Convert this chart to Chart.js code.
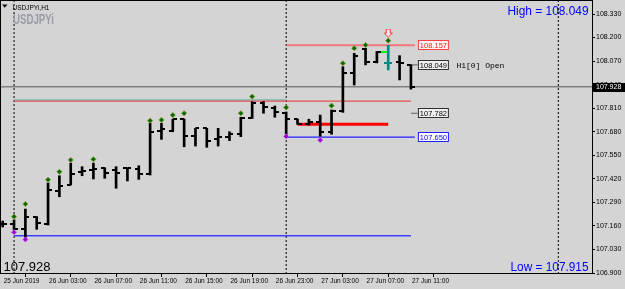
<!DOCTYPE html>
<html>
<head>
<meta charset="utf-8">
<script src="https://cdn.jsdelivr.net/npm/chart.js@4.4.1/dist/chart.umd.min.js"></script>
<style>
  html, body { margin: 0; padding: 0; background: #d4d4d4; }
  #wrap { width: 625px; height: 289px; }
</style>
</head>
<body>
<div id="wrap"><canvas id="chart" width="625" height="289"></canvas></div>
<script>
// USDJPYi H1 bars, index 0 = 25 Jun 23:00 ... index 36 = 27 Jun 11:00
const opens  = [107.171, 107.171, 107.143, 107.211, 107.169, 107.354, 107.386, 107.459, 107.469, 107.478,
                107.469, 107.478, 107.474, 107.445, 107.686, 107.686, 107.749, 107.658, 107.699, 107.640,
                107.653, 107.666, 107.758, 107.840, 107.809, 107.786, 107.749, 107.723, 107.735, 107.677,
                107.795, 108.006, 108.137, 108.063, 108.062, 108.063, 108.049];
const highs  = [107.187, 107.193, 107.253, 107.211, 107.397, 107.437, 107.507, 107.487, 107.507, 107.481,
                107.487, 107.478, 107.492, 107.728, 107.727, 107.749, 107.750, 107.699, 107.699, 107.699,
                107.680, 107.760, 107.846, 107.846, 107.822, 107.789, 107.750, 107.749, 107.772, 107.800,
                108.039, 108.113, 108.141, 108.123, 108.157, 108.100, 108.049];
const lows   = [107.154, 107.137, 107.092, 107.141, 107.165, 107.321, 107.386, 107.437, 107.419, 107.423,
                107.368, 107.408, 107.417, 107.441, 107.638, 107.680, 107.597, 107.601, 107.594, 107.601,
                107.631, 107.653, 107.754, 107.782, 107.760, 107.650, 107.721, 107.717, 107.655, 107.666,
                107.787, 107.938, 108.049, 108.060, 108.021, 107.966, 107.915];
const closes = [107.171, 107.143, 107.211, 107.176, 107.358, 107.382, 107.445, 107.463, 107.474, 107.451,
                107.454, 107.478, 107.445, 107.677, 107.694, 107.749, 107.658, 107.699, 107.631, 107.649,
                107.668, 107.758, 107.837, 107.815, 107.791, 107.750, 107.723, 107.735, 107.680, 107.796,
                108.006, 108.100, 108.063, 108.120, 108.062, 108.058, 107.928];

// fractal markers
const upFractalBars = [1, 2, 4, 5, 6, 8, 13, 14, 15, 16, 21, 22, 25, 29, 30, 31, 32, 34];
const upFractalVals = [107.211, 107.281, 107.415, 107.459, 107.524, 107.528, 107.741, 107.745, 107.772,
                       107.782, 107.782, 107.874, 107.814, 107.824, 108.058, 108.141, 108.159, 108.183];
const downFractalBars = [1, 2, 25, 28];
const downFractalVals = [107.125, 107.085, 107.654, 107.634];
const signalBar = 34;
const signalArrowVal = 108.225;

// levels
const currentPrice = 107.928;
const channelHigh = 107.849;
const channelBand = 107.857;
const channelLow = 107.105;
const resistance = 108.157;
const support = 107.650;
const midLevel = 107.721;
const greenLevel = 108.120;
const barOpen = 108.049;
const lastLow = 107.782;
const dayHigh = 108.049;
const dayLow = 107.915;
const daySeparators = [1, 25, 49];

const xTickValues = [0, 4, 8, 12, 16, 20, 24, 28, 32, 36];
const xTickLabels = ['25 Jun 2019', '26 Jun 03:00', '26 Jun 07:00', '26 Jun 11:00', '26 Jun 15:00',
                     '26 Jun 19:00', '26 Jun 23:00', '27 Jun 03:00', '27 Jun 07:00', '27 Jun 11:00'];
const yTickValues = [106.900, 107.030, 107.160, 107.290, 107.420, 107.550, 107.680, 107.810, 107.940,
                     108.070, 108.200, 108.330];

const xMin = -0.15, xMax = 51.97;
const yMin = 106.8945, yMax = 108.4018;
const lastBar = opens.length - 1;

function tickImage(color, side) {
  const c = document.createElement('canvas');
  c.width = 8; c.height = 2;
  const g = c.getContext('2d');
  g.fillStyle = color;
  g.fillRect(side === 'left' ? 0 : 4, 0, 4, 2);
  return c;
}
function arrowImage() {
  const c = document.createElement('canvas');
  c.width = 9; c.height = 9;
  const g = c.getContext('2d');
  g.beginPath();
  g.moveTo(2.5, 0.5); g.lineTo(6.5, 0.5); g.lineTo(6.5, 4.5); g.lineTo(8.5, 4.5);
  g.lineTo(4.5, 8.5); g.lineTo(0.5, 4.5); g.lineTo(2.5, 4.5); g.closePath();
  g.fillStyle = '#fff0f0'; g.fill();
  g.strokeStyle = '#ff3030'; g.lineWidth = 1; g.stroke();
  return c;
}
const openBlack = tickImage('#000', 'left'), openTeal = tickImage('#008b8b', 'left');
const closeBlack = tickImage('#000', 'right'), closeTeal = tickImage('#008b8b', 'right');

function hLine(val, from, to, color, width, order) {
  return {
    type: 'line', data: [{x: from, y: val}, {x: to, y: val}],
    borderColor: color, borderWidth: width, pointRadius: 0, order: order
  };
}

const datasets = [
  hLine(currentPrice, xMin, xMax, '#808080', 1.5, 20),
  hLine(channelBand, 1, 25, '#8cbcbc', 1.5, 21),
  hLine(channelHigh, 1, lastBar, '#e83030', 1, 20),
  hLine(channelLow, 1, lastBar, '#3c3cff', 1.5, 20),
  hLine(resistance, 25.05, 36.35, '#f07878', 2, 20),
  hLine(support, 24.9, 36.35, '#2020ff', 1.2, 20),
  hLine(midLevel, 26, 34, '#ff0000', 3, 20),
  hLine(greenLevel, 33, 34, '#00ff00', 2, 20),
  hLine(barOpen, lastBar, 36.6, '#606060', 1, 20),
  hLine(lastLow, lastBar, 36.6, '#606060', 1, 20),
  ...daySeparators.map(s => ({
    type: 'line', data: [{x: s, y: yMin}, {x: s, y: yMax}],
    borderColor: '#000', borderWidth: 1, borderDash: [2, 2], pointRadius: 0, order: 25
  })),
  {
    type: 'bar',
    data: highs.map((h, i) => ({x: i, y: [lows[i], h]})),
    backgroundColor: highs.map((h, i) => i === signalBar ? '#008b8b' : '#000'),
    barThickness: 2, borderWidth: 0, order: 5
  },
  {
    type: 'scatter',
    data: opens.map((o, i) => ({x: i, y: o})),
    pointStyle: c => c.dataIndex === signalBar ? openTeal : openBlack,
    pointRadius: 3, order: 4
  },
  {
    type: 'scatter',
    data: closes.map((v, i) => ({x: i, y: v})),
    pointStyle: c => c.dataIndex === signalBar ? closeTeal : closeBlack,
    pointRadius: 3, order: 4
  },
  {
    type: 'scatter',
    data: upFractalBars.map((b, i) => ({x: b, y: upFractalVals[i]})),
    pointStyle: 'rectRot', pointRadius: 2.6,
    backgroundColor: '#006a00', borderColor: '#8a9a20', borderWidth: 0.8, order: 3
  },
  {
    type: 'scatter',
    data: downFractalBars.map((b, i) => ({x: b, y: downFractalVals[i]})),
    pointStyle: 'rectRot', pointRadius: 2.6,
    backgroundColor: '#9a00cc', borderColor: '#c860ff', borderWidth: 0.8, order: 3
  },
  {
    type: 'scatter',
    data: [{x: signalBar, y: signalArrowVal}],
    pointStyle: arrowImage(), pointRadius: 4, order: 2
  }
];

const overlay = {
  id: 'overlay',
  beforeDraw(chart) {
    const ctx = chart.ctx;
    ctx.save();
    ctx.fillStyle = '#d4d4d4';
    ctx.fillRect(0, 0, chart.width, chart.height);
    ctx.restore();
  },
  afterDraw(chart) {
    const {ctx, chartArea: a, scales: {x, y}} = chart;
    ctx.save();
    ctx.strokeStyle = '#000';
    ctx.lineWidth = 1;
    ctx.strokeRect(a.left - 0.5, a.top - 0.5, a.right - a.left + 1, a.bottom - a.top);

    // symbol caption
    ctx.fillStyle = '#000';
    ctx.beginPath();
    ctx.moveTo(2, 4.5); ctx.lineTo(7.5, 4.5); ctx.lineTo(4.75, 7.8); ctx.closePath(); ctx.fill();
    ctx.font = '6.5px "Liberation Sans"';
    ctx.textBaseline = 'alphabetic';
    ctx.textAlign = 'left';
    ctx.fillText('USDJPYi,H1', 12.5, 9.8);
    ctx.fillStyle = '#9a9ca6';
    ctx.font = 'bold 14.5px "Liberation Sans"';
    ctx.fillText('USDJPYi', 13, 23.5, 41);

    // high / low / bid captions
    ctx.fillStyle = '#0000ff';
    ctx.font = '12.5px "Liberation Sans"';
    ctx.textAlign = 'right';
    ctx.fillText('High = ' + dayHigh.toFixed(3), 588.5, 14.5, 81);
    ctx.fillText('Low = ' + dayLow.toFixed(3), 588.5, 270.8, 78);
    ctx.fillStyle = '#000';
    ctx.textAlign = 'left';
    ctx.font = '13px "Liberation Sans"';
    ctx.fillText(currentPrice.toFixed(3), 3.5, 270.5, 49);

    // price boxes
    const bx = x.getPixelForValue(lastBar) + 7.5;
    const boxes = [
      [resistance, '#ff4040', '#ff2020', '#fff4f4'],
      [barOpen, '#303030', '#000', '#f0f0f0'],
      [lastLow, '#303030', '#000', '#f0f0f0'],
      [support, '#2020ff', '#0000ff', '#ffffff']
    ];
    ctx.font = '7.5px "Liberation Sans"';
    ctx.textBaseline = 'middle';
    boxes.forEach(([v, border, text, fill]) => {
      const py = Math.round(y.getPixelForValue(v));
      ctx.fillStyle = fill;
      ctx.fillRect(bx, py - 4.5, 30, 9);
      ctx.strokeStyle = border;
      ctx.strokeRect(bx, py - 4.5, 30, 9);
      ctx.fillStyle = text;
      ctx.textAlign = 'center';
      ctx.fillText(v.toFixed(3), bx + 15, py + 0.5);
    });
    ctx.fillStyle = '#000';
    ctx.textAlign = 'left';
    ctx.font = '8px "Liberation Mono"';
    ctx.fillText('H1[0] Open', bx + 38, Math.round(y.getPixelForValue(barOpen)) + 0.5);

    // bid label on price axis
    const cy = Math.round(y.getPixelForValue(currentPrice));
    ctx.fillStyle = '#000';
    ctx.fillRect(a.right + 1, cy - 4, 33, 9);
    ctx.fillStyle = '#fff';
    ctx.font = '7px "Liberation Sans"';
    ctx.fillText(currentPrice.toFixed(3), a.right + 4, cy + 0.5);
    ctx.restore();
  }
};

function noPadding(s) {
  s.paddingLeft = 0; s.paddingRight = 0; s.paddingTop = 0; s.paddingBottom = 0;
}

new Chart(document.getElementById('chart'), {
  type: 'scatter',
  data: { datasets: datasets },
  options: {
    responsive: false,
    animation: false,
    devicePixelRatio: 1,
    layout: { autoPadding: false, padding: { left: 1, top: 1, right: 0, bottom: 0 } },
    plugins: { legend: { display: false }, tooltip: { enabled: false } },
    scales: {
      x: {
        type: 'linear', min: xMin, max: xMax, offset: false,
        afterBuildTicks: s => { s.ticks = xTickValues.map(v => ({value: v})); },
        afterFit: s => { s.height = 15; noPadding(s); },
        grid: { drawOnChartArea: false, drawTicks: true, tickLength: 3, color: '#000' },
        border: { display: false },
        ticks: {
          autoSkip: false, maxRotation: 0, align: 'start', padding: 0, labelOffset: 1,
          color: '#000', font: { family: 'Liberation Sans', size: 6.5 },
          callback: (v, i) => xTickLabels[i]
        }
      },
      y: {
        type: 'linear', position: 'right', min: yMin, max: yMax,
        afterBuildTicks: s => { s.ticks = yTickValues.map(v => ({value: v})); },
        afterFit: s => { s.width = 33; noPadding(s); },
        grid: { drawOnChartArea: false, drawTicks: true, tickLength: 3, color: '#000' },
        border: { display: false },
        ticks: {
          autoSkip: false, padding: 1,
          color: '#000', font: { family: 'Liberation Sans', size: 7 },
          callback: v => v.toFixed(3)
        }
      }
    }
  },
  plugins: [overlay]
});
</script>
</body>
</html>
